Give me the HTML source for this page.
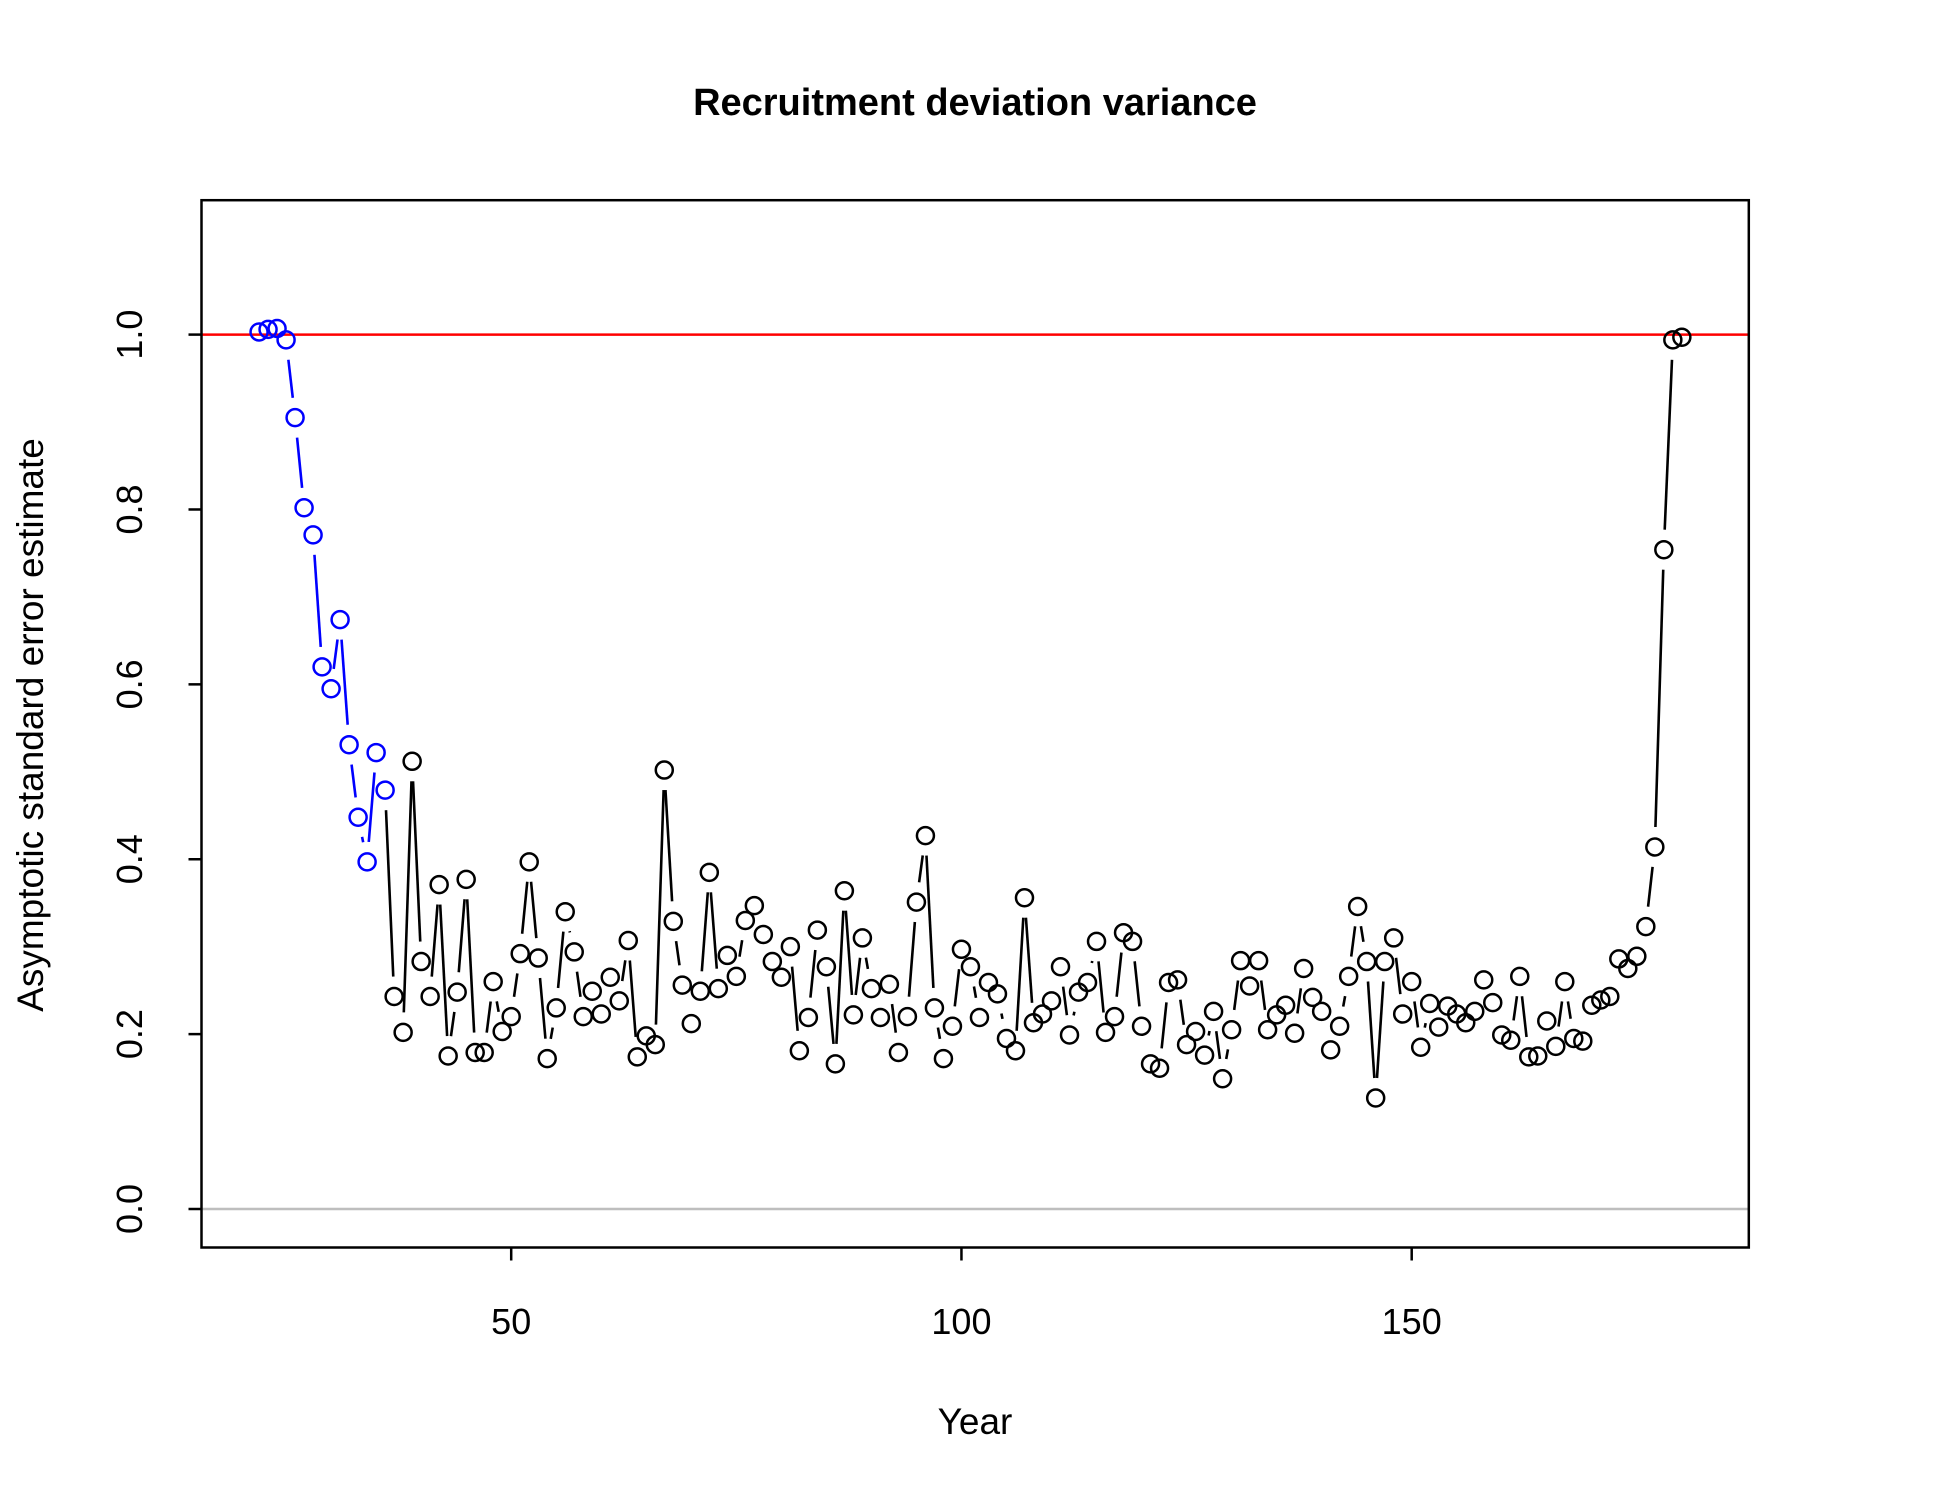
<!DOCTYPE html>
<html><head><meta charset="utf-8"><style>
html,body{margin:0;padding:0;background:#fff;}
svg{display:block;font-family:"Liberation Sans",Arial,sans-serif;}
</style></head><body>
<svg id="chart" width="1950" height="1500" viewBox="0 0 1950 1500">
<rect x="0" y="0" width="1950" height="1500" fill="#fff"/>
<text x="975" y="115" text-anchor="middle" font-size="38" font-weight="bold">Recruitment deviation variance</text>
<text x="975" y="1434" text-anchor="middle" font-size="37">Year</text>
<text transform="translate(43,725) rotate(-90)" text-anchor="middle" font-size="37">Asymptotic standard error estimate</text>
<g id="axes"></g>
<g id="marks"></g>
<rect x="201.5" y="200.2" width="1547.3" height="1047.3" fill="none" stroke="#000" stroke-width="2.5"/>
</svg>
<script>
const years = [];
for (let y = 22; y <= 180; y++) years.push(y);
const seVals = [1.003,1.006,1.007,0.994,0.905,0.802,0.771,0.620,0.595,0.674,0.531,0.448,0.397,0.522,0.479,
0.243,0.202,0.512,0.283,0.243,0.371,0.175,0.248,0.377,0.179,0.179,0.260,0.203,0.220,0.292,0.397,0.287,0.172,0.230,0.340,
0.294,0.220,0.249,0.223,0.265,0.238,0.307,0.174,0.198,0.188,0.502,0.329,0.256,0.212,0.249,0.385,0.252,0.290,0.266,0.330,
0.347,0.314,0.283,0.265,0.300,0.181,0.219,0.319,0.277,0.166,0.364,0.222,0.310,0.252,0.219,0.257,0.179,0.220,0.351,0.427,
0.230,0.172,0.209,0.297,0.277,0.219,0.259,0.246,0.195,0.181,0.356,0.213,0.223,0.238,0.277,0.199,0.248,0.259,0.306,0.202,
0.220,0.316,0.306,0.209,0.166,0.161,0.259,0.262,0.188,0.203,0.176,0.226,0.149,0.205,0.284,0.255,0.284,0.205,0.222,0.233,
0.201,0.275,0.242,0.226,0.182,0.209,0.266,0.346,0.283,0.127,0.283,0.310,0.223,0.260,0.185,0.235,0.208,0.232,0.223,0.213,
0.226,0.262,0.236,0.199,0.193,0.266,0.174,0.175,0.215,0.186,0.260,0.195,0.192,0.233,0.239,0.243,0.286,0.275,0.289,0.323,
0.414,0.754,0.994,0.997];
const earlyCount = 15;
const xTicks = [50,100,150];
const yTicks = [0.0,0.2,0.4,0.6,0.8,1.0];
const yTickLabels = ["0.0","0.2","0.4","0.6","0.8","1.0"];

const NS = "http://www.w3.org/2000/svg";
const px = x => 511.2 + (x - 50) * (900.5 / 100);
const py = v => 1209 - v * 874.4;
const L = 201.5, R = 1748.8, T = 200.2, B = 1247.5;

function mk(tag, attrs, parent) {
  const e = document.createElementNS(NS, tag);
  for (const k in attrs) e.setAttribute(k, attrs[k]);
  parent.appendChild(e);
  return e;
}
const axes = document.getElementById('axes');
const marks = document.getElementById('marks');

let zl = mk('line', {x1:L, x2:R, y1:py(0), y2:py(0), stroke:'#bebebe', 'stroke-width':2.5}, axes);


let rl = mk('line', {x1:L, x2:R, y1:py(1), y2:py(1), stroke:'#ff0000', 'stroke-width':2.5}, axes);



xTicks.forEach(t => {
  const x = px(t);
  const tk = mk('line', {x1:x, x2:x, y1:B, y2:B+13, stroke:'#000', 'stroke-width':2.5}, axes);
  
  
  const lb = mk('text', {x:x, y:1334, 'text-anchor':'middle', 'font-size':36}, axes);
  lb.textContent = String(t);
  
  
});
yTicks.forEach((t, i) => {
  const y = py(t);
  const tk = mk('line', {x1:L-13, x2:L, y1:y, y2:y, stroke:'#000', 'stroke-width':2.5}, axes);
  
  
  const lb = mk('text', {transform:`translate(142,${y}) rotate(-90)`, 'text-anchor':'middle', 'font-size':36}, axes);
  lb.textContent = yTickLabels[i];
  
  
});

const gap = 20;
for (let i = 0; i < years.length - 1; i++) {
  const x1 = px(years[i]), y1 = py(seVals[i]), x2 = px(years[i+1]), y2 = py(seVals[i+1]);
  const d = Math.hypot(x2-x1, y2-y1);
  if (d <= 2*gap) continue;
  const ux = (x2-x1)/d, uy = (y2-y1)/d;
  const col = (i + 1 < earlyCount) ? '#0000ff' : '#000';
  const seg = mk('line', {x1:x1+ux*gap, y1:y1+uy*gap, x2:x2-ux*gap, y2:y2-uy*gap, stroke:col, 'stroke-width':2.6}, marks);
  
  
}
years.forEach((yr, i) => {
  const col = i < earlyCount ? '#0000ff' : '#000';
  const c = mk('circle', {cx:px(yr), cy:py(seVals[i]), r:8.5, fill:'none', stroke:col, 'stroke-width':2.5}, marks);
  
  
});
</script>
</body></html>
